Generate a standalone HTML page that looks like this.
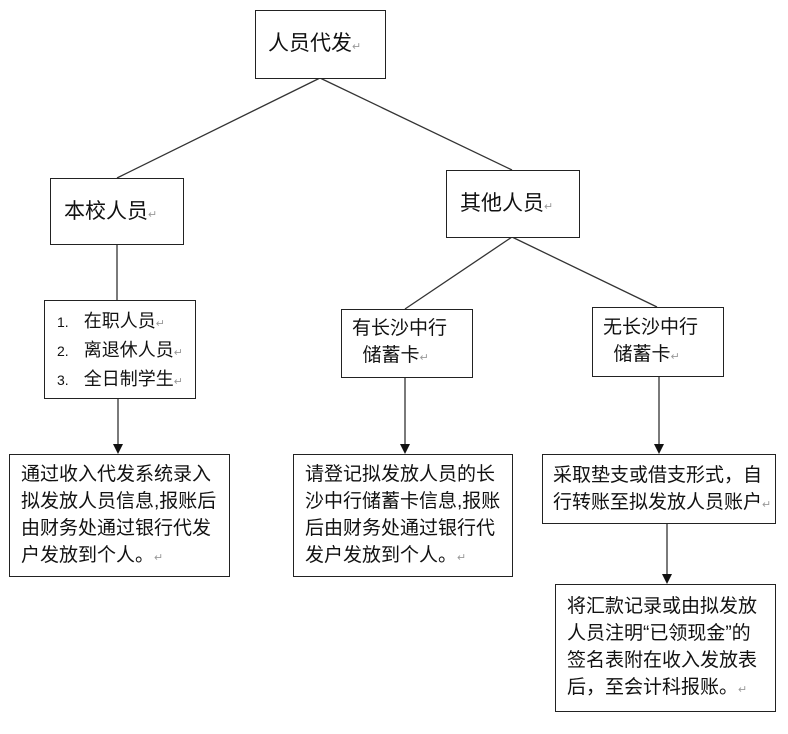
<!DOCTYPE html>
<html><head><meta charset="utf-8"><style>
body{margin:0;background:#fff;width:788px;height:734px;position:relative;overflow:hidden;font-family:"Liberation Sans","Noto Sans CJK SC",sans-serif;color:#111}
.b{position:absolute;border:1.5px solid #222;box-sizing:border-box;background:#fff}
.t{position:absolute;font-size:19px;line-height:27px;white-space:nowrap}
.m{color:#999;font-size:11px}
svg{position:absolute;left:0;top:0}
</style></head><body>
<svg width="788" height="734">
<g stroke="#333" stroke-width="1.3" fill="none">
<line x1="320" y1="78" x2="117" y2="178"/>
<line x1="320" y1="78" x2="512" y2="170"/>
<line x1="512" y1="237" x2="405" y2="309"/>
<line x1="512" y1="237" x2="657" y2="307"/>
<line x1="117" y1="244" x2="117" y2="300"/>
<line x1="118" y1="398" x2="118" y2="446"/>
<line x1="405" y1="377" x2="405" y2="446"/>
<line x1="659" y1="376" x2="659" y2="446"/>
<line x1="667" y1="523" x2="667" y2="576"/>
</g>
<g fill="#111">
<polygon points="113,444 123,444 118,454"/>
<polygon points="400,444 410,444 405,454"/>
<polygon points="654,444 664,444 659,454"/>
<polygon points="662,574 672,574 667,584"/>
</g>
</svg>
<div class="b" style="left:255px;top:10px;width:131px;height:69px"></div>
<div class="t" style="left:268px;top:30px;font-size:21px">人员代发<span class="m">↵</span></div>
<div class="b" style="left:50px;top:178px;width:134px;height:67px"></div>
<div class="t" style="left:64px;top:198px;font-size:21px">本校人员<span class="m">↵</span></div>
<div class="b" style="left:446px;top:170px;width:134px;height:68px"></div>
<div class="t" style="left:460px;top:190px;font-size:21px">其他人员<span class="m">↵</span></div>
<div class="b" style="left:44px;top:300px;width:152px;height:99px"></div>
<div class="t" style="left:57px;top:308px;font-size:18px;line-height:26px"><span style="font-size:14px">1.</span>&nbsp;&nbsp;&nbsp;在职人员<span class="m">↵</span><br><span style="font-size:14px">2.</span>&nbsp;&nbsp;&nbsp;离退休人员<span class="m">↵</span><br><span style="font-size:14px">3.</span>&nbsp;&nbsp;&nbsp;全日制学生<span class="m">↵</span></div>
<div class="b" style="left:341px;top:309px;width:132px;height:69px"></div>
<div class="t" style="left:352px;top:315px;font-size:19px;line-height:27px">有长沙中行<br>&nbsp;&nbsp;储蓄卡<span class="m">↵</span></div>
<div class="b" style="left:592px;top:307px;width:132px;height:70px"></div>
<div class="t" style="left:603px;top:314px;font-size:19px;line-height:27px">无长沙中行<br>&nbsp;&nbsp;储蓄卡<span class="m">↵</span></div>
<div class="b" style="left:9px;top:454px;width:221px;height:123px"></div>
<div class="t" style="left:21px;top:461px">通过收入代发系统录入<br>拟发放人员信息,报账后<br>由财务处通过银行代发<br>户发放到个人。<span class="m">↵</span></div>
<div class="b" style="left:293px;top:454px;width:220px;height:123px"></div>
<div class="t" style="left:305px;top:461px">请登记拟发放人员的长<br>沙中行储蓄卡信息,报账<br>后由财务处通过银行代<br>发户发放到个人。<span class="m">↵</span></div>
<div class="b" style="left:542px;top:454px;width:234px;height:70px"></div>
<div class="t" style="left:553px;top:462px">采取垫支或借支形式，自<br>行转账至拟发放人员账户<span class="m">↵</span></div>
<div class="b" style="left:555px;top:584px;width:221px;height:128px"></div>
<div class="t" style="left:567px;top:593px">将汇款记录或由拟发放<br>人员注明“已领现金”的<br>签名表附在收入发放表<br>后，至会计科报账。<span class="m">↵</span></div>
</body></html>
